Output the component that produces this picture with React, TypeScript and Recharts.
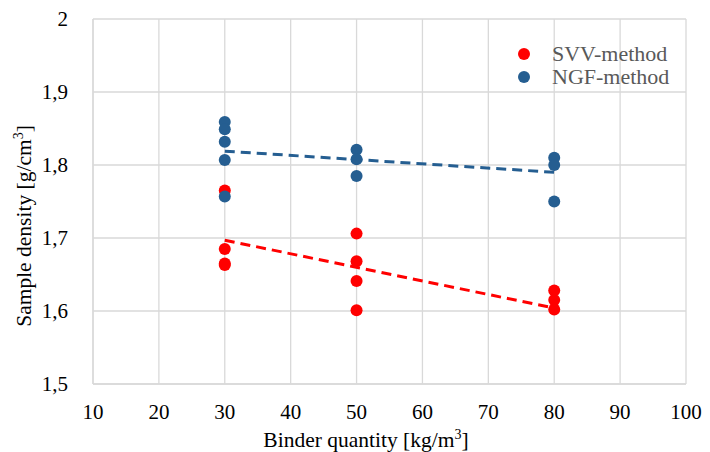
import React from 'react';
import { ScatterChart, Scatter, XAxis, YAxis, CartesianGrid } from 'recharts';

const svvX = [30, 30, 30, 30, 50, 50, 50, 50, 80, 80, 80];
const svvY = [1.765, 1.685, 1.665, 1.663, 1.706, 1.668, 1.641, 1.601, 1.628, 1.615, 1.602];
const ngfX = [30, 30, 30, 30, 30, 50, 50, 50, 80, 80, 80];
const ngfY = [1.859, 1.849, 1.832, 1.807, 1.757, 1.821, 1.808, 1.785, 1.81, 1.8, 1.75];
const svvTrendX = [30, 80];
const svvTrendY = [1.697, 1.604];
const ngfTrendX = [30, 80];
const ngfTrendY = [1.819, 1.79];
const xTicks = [10, 20, 30, 40, 50, 60, 70, 80, 90, 100];
const yTicks = [1.5, 1.6, 1.7, 1.8, 1.9, 2];
const legendItems = ['SVV-method', 'NGF-method'];

const toPts = (xs: number[], ys: number[]) => xs.map((x, i) => ({ x, y: ys[i] }));
const svvData = toPts(svvX, svvY);
const ngfData = toPts(ngfX, ngfY);
const svvTrend = toPts(svvTrendX, svvTrendY);
const ngfTrend = toPts(ngfTrendX, ngfTrendY);

const RED = '#ff0000';
const BLUE = '#255e91';
const FONT = 'Liberation Serif';

const Dot = (props: any) => {
  const { cx, cy, fill } = props;
  if (cx == null || cy == null) return null;
  return <circle cx={cx} cy={cy} r={6} fill={fill} />;
};

const NoShape = () => null;

const YTitle = () => (
  <text x={31} y={226} transform="rotate(-90 31 226)" textAnchor="middle" fontFamily={FONT} fontSize={21.5} fill="#000">
    Sample density [g/cm<tspan dy={-8} fontSize={14}>3</tspan><tspan dy={8}>]</tspan>
  </text>
);

const XTitle = () => (
  <text x={366} y={447} textAnchor="middle" fontFamily={FONT} fontSize={21.5} fill="#000">
    Binder quantity [kg/m<tspan dy={-8} fontSize={14}>3</tspan><tspan dy={8}>]</tspan>
  </text>
);

export default function App() {
  const colors = [RED, BLUE];
  return (
    <div style={{ position: 'absolute', left: 0, top: 0, width: 710, height: 452 }}>
      <ScatterChart width={710} height={452} margin={{ top: 19, right: 24, bottom: 28, left: 0 }}>
        <CartesianGrid stroke="#d9d9d9" strokeWidth={1.3} />
        <XAxis
          type="number"
          dataKey="x"
          domain={[10, 100]}
          ticks={xTicks}
          interval={0}
          axisLine={{ stroke: '#d9d9d9', strokeWidth: 1.3 }}
          tickLine={false}
          tick={{ fontFamily: FONT, fontSize: 21, fill: '#000' }}
          tickMargin={14}
          height={40}
          label={<XTitle />}
        />
        <YAxis
          type="number"
          dataKey="y"
          domain={[1.5, 2]}
          ticks={yTicks}
          interval={0}
          axisLine={{ stroke: '#d9d9d9', strokeWidth: 1.3 }}
          tickLine={false}
          tick={{ fontFamily: FONT, fontSize: 21, fill: '#000' }}
          tickFormatter={(v: number) => String(v).replace('.', ',')}
          tickMargin={19}
          width={93}
          label={<YTitle />}
        />
        <Scatter data={svvTrend} fill={RED} shape={NoShape} line={{ stroke: RED, strokeWidth: 3, strokeDasharray: '10 6' }} isAnimationActive={false} legendType="none" />
        <Scatter data={ngfTrend} fill={BLUE} shape={NoShape} line={{ stroke: BLUE, strokeWidth: 3, strokeDasharray: '10 6' }} isAnimationActive={false} legendType="none" />
        <Scatter name="SVV-method" data={svvData} fill={RED} shape={<Dot />} isAnimationActive={false} />
        <Scatter name="NGF-method" data={ngfData} fill={BLUE} shape={<Dot />} isAnimationActive={false} />
      </ScatterChart>
      <div style={{ position: 'absolute', left: 518, top: 42, fontFamily: FONT, fontSize: 22, color: '#595959', lineHeight: '23px' }}>
        {legendItems.map((t, i) => (
          <div key={t} style={{ display: 'flex', alignItems: 'center' }}>
            <span style={{ display: 'inline-block', width: 12, height: 12, borderRadius: 6, background: colors[i], marginRight: 22 }} />
            <span>{t}</span>
          </div>
        ))}
      </div>
    </div>
  );
}
